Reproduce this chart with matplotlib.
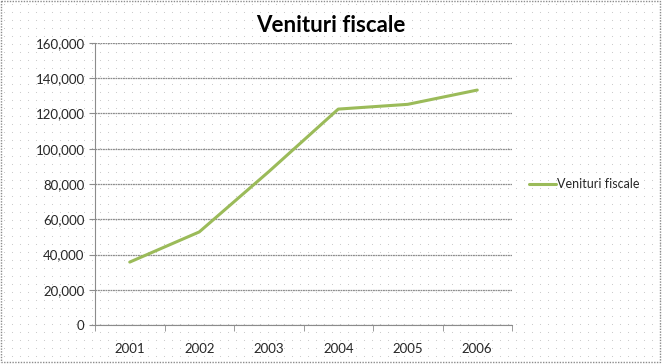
import numpy as np
import matplotlib.pyplot as plt
from matplotlib.patches import Rectangle
from matplotlib.ticker import FuncFormatter

# --- data ---
years = ["2001", "2002", "2003", "2004", "2005", "2006"]
venituri = [35700, 52800, 87000, 122500, 125200, 133300]
series_name = "Venituri fiscale"

plt.rcParams['font.family'] = ['Lato', 'DejaVu Sans']

W, H = 662, 364
fig = plt.figure(figsize=(W / 100, H / 100), dpi=100)

# dotted Excel-style background on a full-figure axes
bg = fig.add_axes([0, 0, 1, 1], zorder=-10)
bg.set_xlim(0, W)
bg.set_ylim(H, 0)
bg.axis("off")
gx, gy = np.meshgrid(np.arange(4, W, 8), np.arange(4, H, 8))
bg.scatter(gx.ravel(), gy.ravel(), s=0.6, color="#c4c4c4", linewidths=0)
bg.add_patch(Rectangle((1, 1), W - 3, H - 3, fill=False, edgecolor="#8c8c8c",
                       linestyle=(0, (1, 1)), linewidth=1.0))

ax = fig.add_axes([95 / W, 1 - 325 / H, 417 / W, 282 / H])
ax.patch.set_alpha(0)

x = range(len(years))
ax.plot(x, venituri, color="#9BBB59", linewidth=2.2, label=series_name,
        solid_capstyle="round")

ax.set_xlim(-0.5, len(years) - 0.5)
ax.set_ylim(0, 160000)
ax.set_yticks(range(0, 160001, 20000))
ax.yaxis.set_major_formatter(FuncFormatter(lambda v, p: f"{int(v):,}"))
ax.set_xticks(list(x))
ax.set_xticklabels(years)
ax.set_xticks([i - 0.5 for i in range(len(years) + 1)], minor=True)
ax.tick_params(axis="x", which="major", length=0, pad=13, labelsize=9.5, colors="#262626")
ax.tick_params(axis="x", which="minor", length=4, color="#8c8c8c")
ax.tick_params(axis="y", length=4, color="#8c8c8c", labelsize=9.5, labelcolor="#262626")

ax.grid(axis="y", color="#8c8c8c", linewidth=0.9, linestyle=(0, (1.5, 0.5)))
ax.set_axisbelow(True)
for s in ["top", "right"]:
    ax.spines[s].set_visible(False)
for s in ["left", "bottom"]:
    ax.spines[s].set_color("#8c8c8c")

fig.text(331 / W, 1 - 26 / H, "Venituri fiscale", ha="center", va="center",
         fontsize=16, fontweight="bold", color="black")

ax.legend(loc="center left", bbox_to_anchor=(1.04, 0.5), frameon=False,
          borderaxespad=0, borderpad=0,
          fontsize=9, handlelength=2.2, handletextpad=0.1, labelcolor="#262626")

fig.savefig("out.png", dpi=100)
